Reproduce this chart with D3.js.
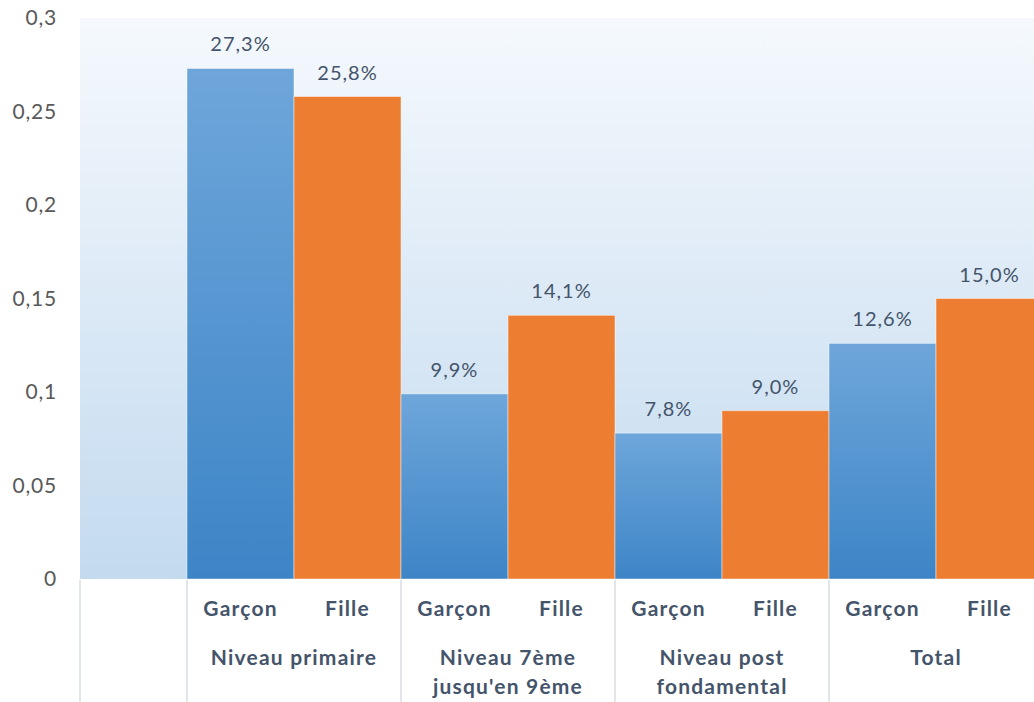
<!DOCTYPE html>
<html>
<head>
<meta charset="utf-8">
<script src="https://cdn.jsdelivr.net/npm/d3@7"></script>
<style>
  html, body { margin: 0; padding: 0; background: #fff; overflow: hidden; }
  svg { display: block; font-family: Lato, "Open Sans", sans-serif; }
</style>
</head>
<body>
<svg id="chart" width="1034" height="702"></svg>
<script>
// Taux par niveau et par sexe
const groups = ["Niveau primaire", "Niveau 7ème jusqu'en 9ème", "Niveau post fondamental", "Total"];
const groupLines = [["Niveau primaire"], ["Niveau 7ème", "jusqu'en 9ème"], ["Niveau post", "fondamental"], ["Total"]];
const sexes = ["Garçon", "Fille"];
const garcon = [0.273, 0.099, 0.078, 0.126];
const fille = [0.258, 0.141, 0.090, 0.150];
const yTicks = [0, 0.05, 0.1, 0.15, 0.2, 0.25, 0.3];
const yTickLabels = ["0", "0,05", "0,1", "0,15", "0,2", "0,25", "0,3"];

const svg = d3.select("#chart");
const W = 1034, H = 702;
const plotLeft = 80, plotTop = 18, baseY = 579;
const slot = 107;
const plotRight = plotLeft + 9 * slot;

const y = d3.scaleLinear().domain([0, 0.3]).range([baseY, plotTop]);
const x0 = d3.scaleBand().domain(groups).range([plotLeft + slot, plotRight]).padding(0);
const x1 = d3.scaleBand().domain(sexes).range([0, x0.bandwidth()]).padding(0);

const defs = svg.append("defs");
const bg = defs.append("linearGradient").attr("id", "bgGrad").attr("x1", 0).attr("y1", 0).attr("x2", 0).attr("y2", 1);
bg.append("stop").attr("offset", "0%").attr("stop-color", "#f5f9fd");
bg.append("stop").attr("offset", "100%").attr("stop-color", "#c3daef");
const bl = defs.append("linearGradient").attr("id", "blueGrad").attr("x1", 0).attr("y1", 0).attr("x2", 0).attr("y2", 1);
bl.append("stop").attr("offset", "0%").attr("stop-color", "#6ea6da");
bl.append("stop").attr("offset", "100%").attr("stop-color", "#3d85c7");

// plot background
svg.append("rect")
  .attr("x", plotLeft).attr("y", plotTop)
  .attr("width", plotRight - plotLeft).attr("height", baseY - plotTop)
  .attr("fill", "url(#bgGrad)");

// bars
const rows = groups.map((g, i) => ({ group: g, values: [
  { sex: "Garçon", v: garcon[i] }, { sex: "Fille", v: fille[i] }
]}));

const gGroups = svg.append("g").selectAll("g").data(rows).join("g")
  .attr("transform", d => `translate(${x0(d.group)},0)`);

gGroups.selectAll("rect").data(d => d.values).join("rect")
  .attr("x", d => x1(d.sex))
  .attr("y", d => y(d.v))
  .attr("width", x1.bandwidth())
  .attr("height", d => y(0) - y(d.v))
  .attr("fill", d => d.sex === "Garçon" ? "url(#blueGrad)" : "#ed7d31")
  .attr("stroke", "rgba(255,255,255,0.45)")
  .attr("stroke-width", 1);

// value labels
const fmt = v => d3.format(".1f")(v * 100).replace(".", ",") + "%";
gGroups.selectAll("text.val").data(d => d.values).join("text")
  .attr("class", "val")
  .attr("x", d => x1(d.sex) + x1.bandwidth() / 2)
  .attr("y", d => y(d.v) - 17)
  .attr("text-anchor", "middle")
  .attr("font-size", 20)
  .attr("letter-spacing", 1)
  .attr("fill", "#44546a")
  .text(d => fmt(d.v));

// y axis labels
const yAxis = d3.axisLeft(y).tickValues(yTicks).tickSize(0).tickPadding(0)
  .tickFormat((d, i) => yTickLabels[i]);
const ya = svg.append("g").attr("transform", `translate(57,0)`).call(yAxis);
ya.select(".domain").remove();
ya.selectAll("text").attr("font-size", 21).attr("fill", "#595959")
  .attr("font-family", "Lato, sans-serif").attr("letter-spacing", 0.8);

// category separators
const seps = [plotLeft, plotLeft + slot].concat(groups.slice(1).map(g => x0(g))).concat([plotRight]);
svg.append("g").selectAll("line").data(seps).join("line")
  .attr("x1", d => d).attr("x2", d => d)
  .attr("y1", baseY + 1).attr("y2", H)
  .attr("stroke", "#d9dde3").attr("stroke-width", 1.5);

// sex labels
gGroups.selectAll("text.sex").data(d => d.values).join("text")
  .attr("class", "sex")
  .attr("x", d => x1(d.sex) + x1.bandwidth() / 2)
  .attr("y", 616)
  .attr("text-anchor", "middle")
  .attr("font-size", 21)
  .attr("font-weight", "bold")
  .attr("letter-spacing", 1.2)
  .attr("fill", "#44546a")
  .text(d => d.sex);

// group labels
gGroups.each(function(d, i) {
  const t = d3.select(this).append("text")
    .attr("x", x0.bandwidth() / 2)
    .attr("y", 665)
    .attr("text-anchor", "middle")
    .attr("font-size", 21)
    .attr("font-weight", "bold")
    .attr("letter-spacing", 1.2)
    .attr("fill", "#44546a");
  groupLines[i].forEach((line, j) => {
    t.append("tspan").attr("x", x0.bandwidth() / 2).attr("dy", j === 0 ? 0 : 29).text(line);
  });
});
</script>
</body>
</html>
